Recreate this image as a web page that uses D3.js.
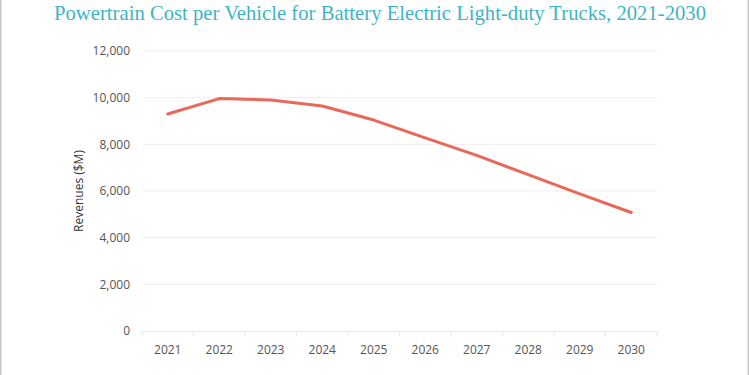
<!DOCTYPE html>
<html>
<head>
<meta charset="utf-8">
<script src="https://cdn.jsdelivr.net/npm/d3@7"></script>
<style>
	body { margin: 0; background: #fff; }
	svg { display: block; }
</style>
</head>
<body>
<script>
const years = ["2021", "2022", "2023", "2024", "2025", "2026", "2027", "2028", "2029", "2030"];
const costs = [9300, 9960, 9900, 9640, 9040, 8280, 7530, 6700, 5880, 5080];
const yTicks = [0, 2000, 4000, 6000, 8000, 10000, 12000];

const W = 750, H = 375;
const margin = { top: 51, right: 93, bottom: 44, left: 142 };
const width = W - margin.left - margin.right;
const height = H - margin.top - margin.bottom;

const root = d3.select("body").append("svg")
	.attr("width", W)
	.attr("height", H);

// outer frame (only the side edges show)
root.append("rect")
	.attr("x", 0.75)
	.attr("y", -5)
	.attr("width", W - 2.5)
	.attr("height", H + 10)
	.attr("fill", "none")
	.attr("stroke", "#c8c8c8")
	.attr("stroke-width", 1.5);

root.append("text")
	.attr("x", 380)
	.attr("y", 20)
	.attr("text-anchor", "middle")
	.attr("font-family", "'Liberation Serif', 'DejaVu Serif', serif")
	.attr("font-size", "21px")
	.attr("fill", "#3fb4c6")
	.attr("textLength", 652)
	.attr("lengthAdjust", "spacingAndGlyphs")
	.text("Powertrain Cost per Vehicle for Battery Electric Light-duty Trucks, 2021-2030");

const svg = root.append("g")
	.attr("transform", `translate(${margin.left},${margin.top})`);

const x = d3.scaleBand().domain(years).range([0, width]);
const y = d3.scaleLinear().domain([0, 12000]).range([height, 0]);

// grid
svg.append("g")
	.selectAll("line")
	.data(yTicks.filter(d => d > 0))
	.join("line")
	.attr("x1", 0)
	.attr("x2", width)
	.attr("y1", d => y(d))
	.attr("y2", d => y(d))
	.attr("stroke", "#eeeeee")
	.attr("stroke-width", 1);

// y axis labels
const yAxis = svg.append("g")
	.call(d3.axisLeft(y).tickValues(yTicks).tickSize(0).tickPadding(12).tickFormat(d3.format(",")));
yAxis.select(".domain").remove();
yAxis.selectAll("text")
	.attr("font-family", "'Open Sans', 'Noto Sans', sans-serif")
	.attr("font-size", "12px")
	.attr("fill", "#555");

// x axis
const xAxis = svg.append("g")
	.attr("transform", `translate(0,${height})`)
	.call(d3.axisBottom(x).tickSize(0).tickPadding(14));
xAxis.select(".domain").attr("stroke", "#e6e6e6");
xAxis.selectAll("text")
	.attr("font-family", "'Open Sans', 'Noto Sans', sans-serif")
	.attr("font-size", "12px")
	.attr("fill", "#555");

// band boundary ticks
xAxis.append("g")
	.selectAll("line")
	.data(years.concat(["end"]))
	.join("line")
	.attr("x1", (d, i) => i * x.step())
	.attr("x2", (d, i) => i * x.step())
	.attr("y1", 0)
	.attr("y2", 5)
	.attr("stroke", "#e6e6e6");

svg.append("text")
	.attr("transform", "rotate(-90)")
	.attr("x", -height / 2)
	.attr("y", -59)
	.attr("text-anchor", "middle")
	.attr("font-family", "'Open Sans', 'Noto Sans', sans-serif")
	.attr("font-size", "12px")
	.attr("fill", "#333")
	.text("Revenues ($M)");

const line = d3.line()
	.x((d, i) => x(years[i]) + x.bandwidth() / 2)
	.y(d => y(d));

svg.append("path")
	.datum(costs)
	.attr("d", line)
	.attr("fill", "none")
	.attr("stroke", "#e8685a")
	.attr("stroke-width", 3)
	.attr("stroke-linejoin", "round")
	.attr("stroke-linecap", "round");
</script>
</body>
</html>
